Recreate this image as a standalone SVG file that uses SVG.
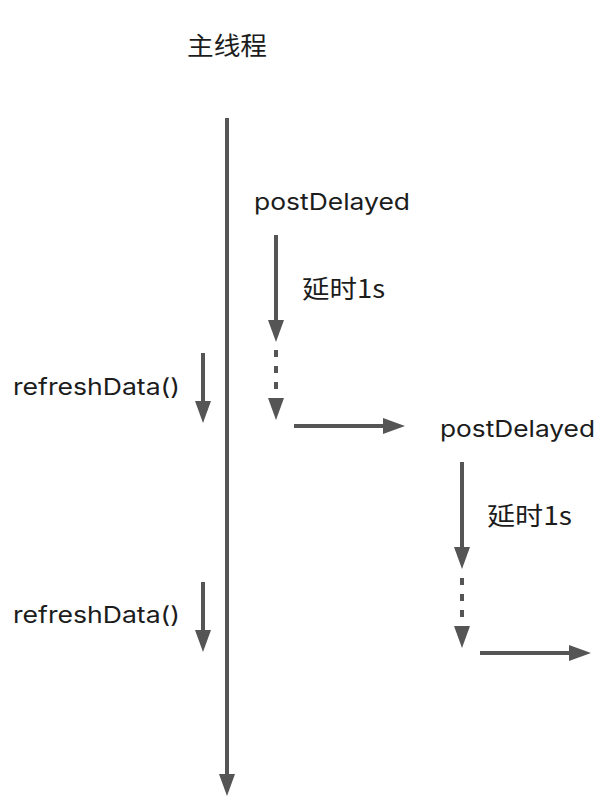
<svg xmlns="http://www.w3.org/2000/svg" width="614" height="796" viewBox="0 0 614 796">
  <style>
    .ln { stroke: #555555; stroke-width: 4; fill: none; }
    .dash { stroke-dasharray: 7 9; }
    .lat { font-family: Inter, "Liberation Sans", "Noto Sans CJK SC", sans-serif; font-size: 23px; fill: #1c1c1c; }
    .cjk { font-family: "Noto Sans CJK SC", Inter, sans-serif; font-size: 25px; fill: #1c1c1c; }
  </style>
  <defs>
    <marker id="ah" markerUnits="userSpaceOnUse" markerWidth="22" markerHeight="16" refX="0" refY="8" orient="auto" overflow="visible">
      <path d="M0,0 L22,8 L0,16 Z" fill="#555555"/>
    </marker>
  </defs>
  <rect width="614" height="796" fill="#ffffff"/>

  <g id="title">
    <text class="cjk" x="187" y="55" textLength="80" lengthAdjust="spacingAndGlyphs">主线程</text>
  </g>
  <g id="postDelayed1">
    <text class="lat" x="254" y="210" textLength="156" lengthAdjust="spacingAndGlyphs">postDelayed</text>
  </g>
  <g id="delay1">
    <text class="cjk" x="302" y="298" textLength="83" lengthAdjust="spacingAndGlyphs">延时1s</text>
  </g>
  <g id="refresh1">
    <text class="lat" x="13" y="395" textLength="167" lengthAdjust="spacingAndGlyphs">refreshData()</text>
  </g>
  <g id="postDelayed2">
    <text class="lat" x="440" y="437" textLength="155" lengthAdjust="spacingAndGlyphs">postDelayed</text>
  </g>
  <g id="delay2">
    <text class="cjk" x="487" y="525" textLength="85" lengthAdjust="spacingAndGlyphs">延时1s</text>
  </g>
  <g id="refresh2">
    <text class="lat" x="13" y="623" textLength="167" lengthAdjust="spacingAndGlyphs">refreshData()</text>
  </g>

  <g id="connectors">
    <line class="ln" x1="227" y1="118" x2="227" y2="774" marker-end="url(#ah)"/>
    <line class="ln" x1="276" y1="235" x2="276" y2="320" marker-end="url(#ah)"/>
    <line class="ln dash" x1="276" y1="350" x2="276" y2="398" marker-end="url(#ah)"/>
    <line class="ln" x1="294" y1="426" x2="383" y2="426" marker-end="url(#ah)"/>
    <line class="ln" x1="203" y1="353" x2="203" y2="401" marker-end="url(#ah)"/>
    <line class="ln" x1="462" y1="462" x2="462" y2="547" marker-end="url(#ah)"/>
    <line class="ln dash" x1="462" y1="578" x2="462" y2="626" marker-end="url(#ah)"/>
    <line class="ln" x1="480" y1="653" x2="569" y2="653" marker-end="url(#ah)"/>
    <line class="ln" x1="203" y1="582" x2="203" y2="630" marker-end="url(#ah)"/>
  </g>
</svg>
